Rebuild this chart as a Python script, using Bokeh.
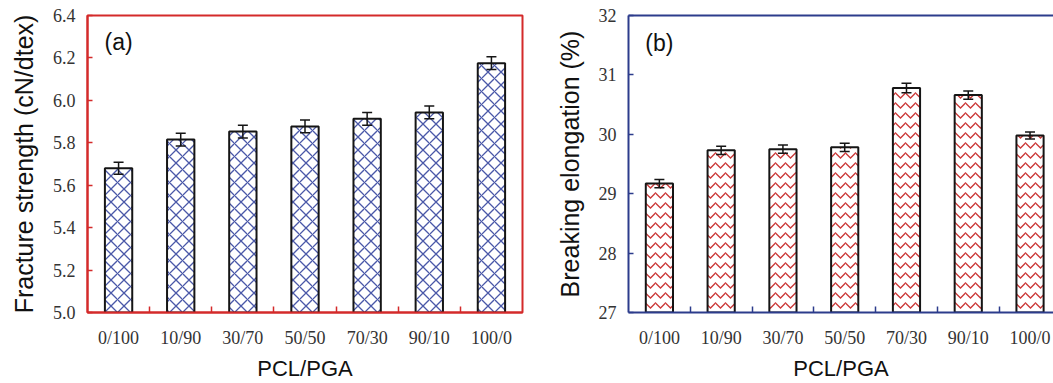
import numpy as np
from bokeh.plotting import figure
from bokeh.layouts import row
from bokeh.models import (Range1d, FixedTicker, ColumnDataSource, Whisker, TeeHead,
                          Label, LinearAxis, NumeralTickFormatter)
from bokeh.embed import file_html
from bokeh.resources import INLINE

categories = ["0/100", "10/90", "30/70", "50/50", "70/30", "90/10", "100/0"]
strength = [5.68, 5.815, 5.853, 5.877, 5.913, 5.943, 6.175]
strength_err = [0.028, 0.03, 0.03, 0.03, 0.03, 0.03, 0.03]
elongation = [29.17, 29.73, 29.75, 29.78, 30.78, 30.66, 29.98]
elongation_err = [0.07, 0.07, 0.07, 0.07, 0.08, 0.07, 0.06]
strength_ticks = [5.0, 5.2, 5.4, 5.6, 5.8, 6.0, 6.2, 6.4]
elongation_ticks = [27, 28, 29, 30, 31, 32]

SERIF = "Liberation Serif"
SANS = "Liberation Sans"

xs = np.arange(len(categories))
bounds = list(xs[:-1] + 0.5)
overrides = {int(i): c for i, c in zip(xs, categories)}


def make_panel(vals, errs, yticks, ymin, ymax, xend, color, hatch, hatch_color,
               hatch_scale, ylabel, tag, tag_y, width, mbl, mbr, fmt):
    p = figure(width=width, height=383, x_range=Range1d(-0.5, xend),
               y_range=Range1d(ymin, ymax), output_backend="svg",
               toolbar_location=None, min_border_left=mbl, min_border_right=mbr,
               min_border_top=15, min_border_bottom=71)
    p.grid.visible = False
    p.background_fill_color = "white"
    p.border_fill_color = "white"
    src = ColumnDataSource(dict(x=xs, y=vals,
                                upper=[v + e for v, e in zip(vals, errs)],
                                lower=[v - e for v, e in zip(vals, errs)]))
    p.vbar(x="x", top="y", bottom=ymin - 1, width=0.44, source=src,
           fill_color="white", line_color="#151515", line_width=2,
           hatch_pattern=hatch, hatch_color=hatch_color, hatch_scale=hatch_scale,
           hatch_weight=1.3)
    w = Whisker(source=src, base="x", upper="upper", lower="lower",
                line_color="#151515", line_width=1.5, level="annotation",
                upper_head=TeeHead(size=10, line_color="#151515", line_width=1.5),
                lower_head=TeeHead(size=10, line_color="#151515", line_width=1.5))
    p.add_layout(w)

    xa = p.xaxis[0]
    xa.ticker = FixedTicker(ticks=list(xs), minor_ticks=bounds)
    xa.major_label_overrides = overrides
    xa.major_tick_in = 0
    xa.major_tick_out = 0
    xa.minor_tick_in = 6
    xa.minor_tick_out = 0
    xa.minor_tick_line_color = color
    xa.minor_tick_line_width = 1.5
    xa.axis_line_color = color
    xa.axis_line_width = 2
    xa.major_label_text_font = SERIF
    xa.major_label_text_font_size = "18px"
    xa.major_label_text_color = "#333333"
    xa.major_label_standoff = 15
    xa.axis_label = "PCL/PGA"
    xa.axis_label_text_font = SANS
    xa.axis_label_text_font_style = "normal"
    xa.axis_label_text_font_size = "22px"
    xa.axis_label_text_color = "#111111"
    xa.axis_label_standoff = 5

    ya = p.yaxis[0]
    ya.ticker = FixedTicker(ticks=yticks)
    ya.formatter = NumeralTickFormatter(format=fmt)
    ya.major_tick_in = 5
    ya.major_tick_out = 0
    ya.minor_tick_line_color = None
    ya.major_tick_line_color = color
    ya.major_tick_line_width = 1.5
    ya.axis_line_color = color
    ya.axis_line_width = 2
    ya.major_label_text_font = SERIF
    ya.major_label_text_font_size = "18px"
    ya.major_label_text_color = "#333333"
    ya.major_label_standoff = 12
    ya.axis_label = ylabel
    ya.axis_label_text_font = SANS
    ya.axis_label_text_font_style = "normal"
    ya.axis_label_text_font_size = "25px"
    ya.axis_label_text_color = "#111111"
    ya.axis_label_standoff = 12

    p.add_layout(Label(x=0, y=tag_y, text=tag, text_font=SANS, text_font_size="23px",
                       text_align="center", text_baseline="middle",
                       text_color="#111111"))
    return p


p1 = make_panel(strength, strength_err, strength_ticks, 5.0, 6.4, 6.5, "#d42a2a",
                "diagonal_cross", "#4a58a8", 13,
                "Fracture strength (cN/dtex)", "(a)", 6.273, 535, 87, 13, "0.0")
p1.outline_line_color = "#d42a2a"
p1.outline_line_width = 2

p2 = make_panel(elongation, elongation_err, elongation_ticks, 27, 32, 6.38, "#2c3c8c",
                "horizontal_wave", "#cc3a3a", 10,
                "Breaking elongation (%)", "(b)", 31.545, 518, 93, 0, "0")
p2.outline_line_color = None
top = LinearAxis(ticker=FixedTicker(ticks=[]), axis_line_color="#2c3c8c",
                 axis_line_width=2, major_label_standoff=0,
                 major_tick_in=0, major_tick_out=0, minor_tick_in=0, minor_tick_out=0)
p2.add_layout(top, "above")

layout = row(p1, p2)
open("out.html", "w").write(file_html(layout, INLINE))
